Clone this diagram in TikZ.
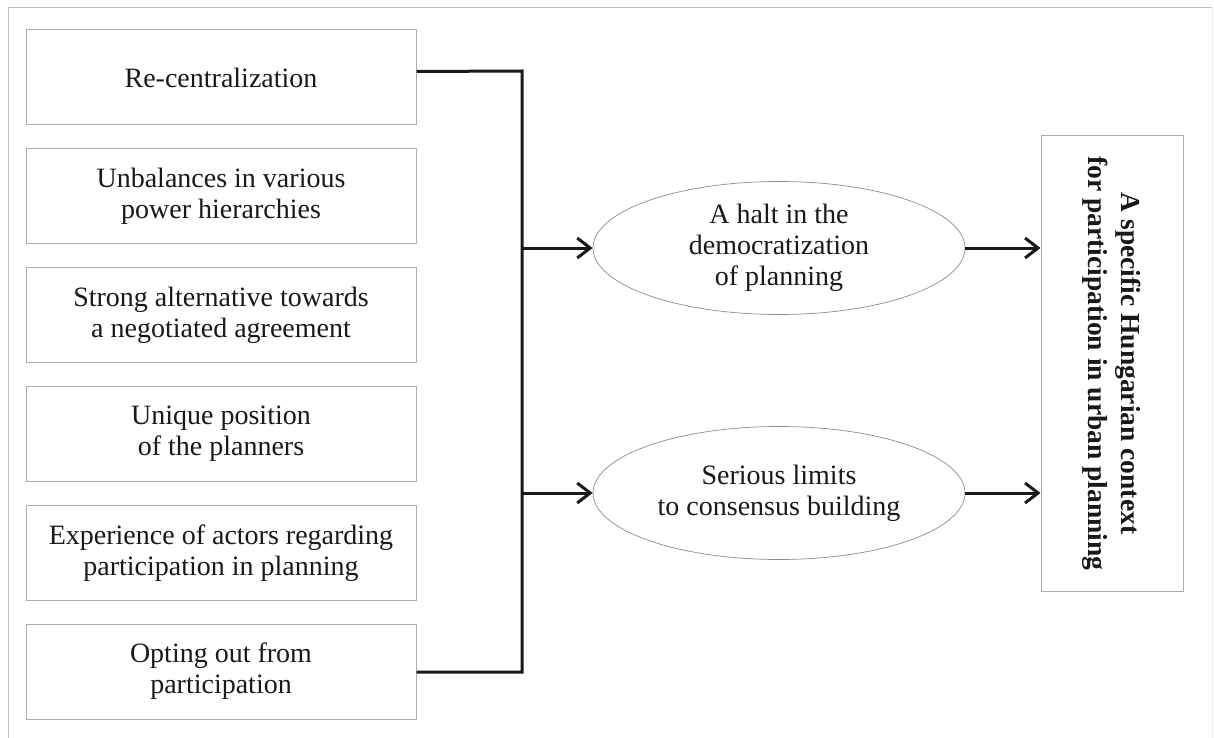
\documentclass[tikz,border=0pt]{standalone}
\usepackage{fontspec}
\setmainfont{Liberation Serif}
\usetikzlibrary{arrows.meta,shapes.geometric,calc}
\begin{document}
\begin{tikzpicture}[x=1pt,y=-1pt,
  frameline/.style={draw=black!25,line width=1pt},
  leftbox/.style={draw=black!32,line width=1pt,minimum width=390pt,minimum height=95pt,inner sep=0pt,align=center,font=\fontsize{28}{31}\selectfont,text=black!90},
  oval/.style={ellipse,draw=black!45,line width=0.7pt,minimum width=372pt,minimum height=133pt,inner sep=0pt,align=center,font=\fontsize{28}{31}\selectfont,text=black!90},
  resultbox/.style={draw=black!32,line width=1pt,rotate=-90,minimum width=455pt,minimum height=142pt,inner sep=0pt,align=center,font=\fontsize{27.5}{33}\selectfont\bfseries,text=black!90},
  conn/.style={line width=3pt,draw=black!90},
  arr/.style={conn,-{Straight Barb[length=13pt,width=20pt]}}]
\useasboundingbox (0,0) rectangle (1214,738);
\fill[white] (0,0) rectangle (1214,738);
\coordinate (ftl) at (8,8);
\coordinate (ftr) at (1212,8);
\coordinate (fbl) at (8,738);
\coordinate (fbr) at (1212,738);
\draw[frameline] (fbl) -- (ftl) -- (ftr);
\draw[draw=black!8,line width=1pt] (ftr) -- (fbr);

\node[leftbox] (b1) at (221,77.5) {Re-centralization};
\node[leftbox] (b2) at (221,196.3) {Unbalances in various\\power hierarchies};
\node[leftbox] (b3) at (221,315.1) {Strong alternative towards\\a negotiated agreement};
\node[leftbox] (b4) at (221,433.9) {Unique position\\of the planners};
\node[leftbox] (b5) at (221,552.7) {Experience of actors regarding\\participation in planning};
\node[leftbox] (b6) at (221,671.5) {Opting out from\\participation};

\node[oval] (e1) at (779,248) {A halt in the\\democratization\\of planning};
\node[oval] (e2) at (779,493) {Serious limits\\to consensus building};

\node[resultbox] (r) at (1112,363.5) {A specific Hungarian context\\for participation in urban planning};

\coordinate (top) at (522,71);
\coordinate (bot) at (522,672);
\draw[conn,line join=miter] ([yshift=6pt]b1.east) -- (top) -- (bot) -- (b6.east |- bot);
\draw[arr] (top |- e1.west) -- (e1.west);
\draw[arr] (top |- e2.west) -- (e2.west);
\draw[arr] (e1.east) -- (e1.east -| r.south);
\draw[arr] (e2.east) -- (e2.east -| r.south);
\end{tikzpicture}
\end{document}
